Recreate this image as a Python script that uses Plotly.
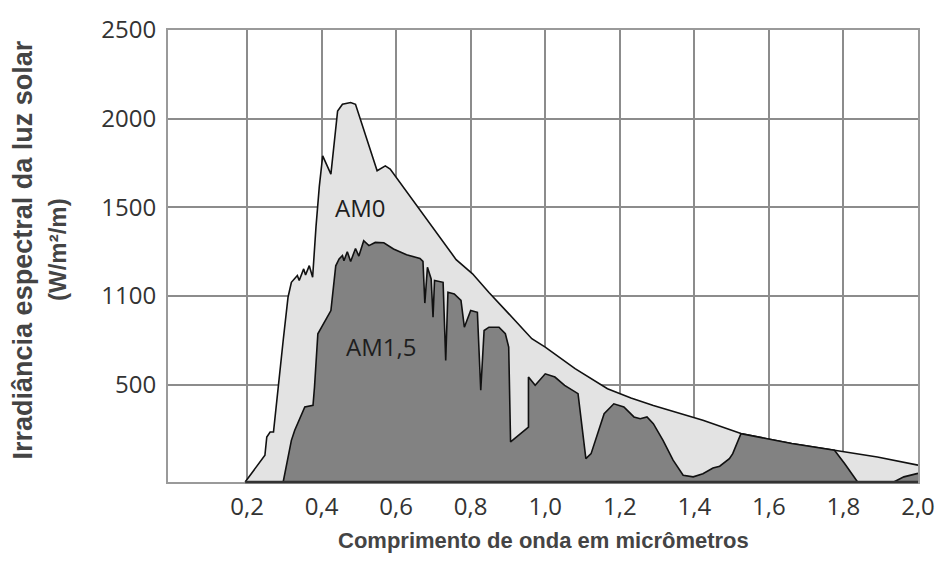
import plotly.graph_objects as go

# ---- data (wavelength in micrometres, irradiance in W/m^2/m) ----
AM0_X = [0.195, 0.248, 0.253, 0.262, 0.271, 0.284, 0.297, 0.310, 0.319, 0.335, 0.340,
         0.352, 0.357, 0.367, 0.376, 0.385, 0.394, 0.403, 0.425, 0.443, 0.456, 0.478,
         0.491, 0.549, 0.571, 0.584, 0.664, 0.734, 0.761, 0.805, 0.849, 0.900, 0.964,
         1.000, 1.080, 1.167, 1.230, 1.290, 1.360, 1.423, 1.525, 1.661, 1.776, 1.891, 2.000]
AM0_Y = [-49, 102, 205, 233, 233, 505, 749, 993, 1077, 1115, 1087,
         1153, 1118, 1171, 1106, 1390, 1620, 1790, 1687, 2043, 2081, 2091,
         2081, 1706, 1734, 1716, 1485, 1290, 1205, 1125, 1020, 905, 759,
         712, 590, 477, 425, 383, 340, 299, 224, 168, 130, 92, 46]

AM15_X = [0.297, 0.319, 0.328, 0.355, 0.377, 0.381, 0.390, 0.425, 0.438, 0.447, 0.456,
          0.460, 0.469, 0.478, 0.491, 0.500, 0.513, 0.527, 0.544, 0.567, 0.593, 0.628,
          0.664, 0.672, 0.677, 0.684, 0.694, 0.699, 0.703, 0.726, 0.733, 0.739, 0.756,
          0.774, 0.783, 0.800, 0.818, 0.827, 0.836, 0.849, 0.876, 0.893, 0.902, 0.907,
          0.955, 0.955, 0.973, 1.000, 1.026, 1.052, 1.088, 1.096, 1.109, 1.123, 1.140,
          1.158, 1.184, 1.211, 1.238, 1.255, 1.273, 1.290, 1.316, 1.343, 1.370, 1.397,
          1.423, 1.450, 1.468, 1.494, 1.503, 1.525, 1.661, 1.776, 1.803, 1.838, 1.935,
          1.962, 2.000]
AM15_Y = [-49, 186, 243, 374, 383, 486, 787, 918, 1170, 1209, 1228,
          1199, 1250, 1195, 1268, 1225, 1312, 1284, 1302, 1300, 1265, 1232,
          1212, 1195, 960, 1162, 1096, 880, 1087, 1077, 637, 1021, 1012,
          975, 824, 918, 908, 468, 805, 824, 824, 787, 712, 177,
          261, 543, 496, 561, 543, 496, 449, 299, 83, 111, 224,
          336, 392, 374, 318, 308, 318, 280, 186, 74, -11, -20,
          -2, 30, 40, 83, 111, 224, 168, 130, 55, -49, -49,
          -20, 0]

X_TICKS = [0.2, 0.4, 0.6, 0.8, 1.0, 1.2, 1.4, 1.6, 1.8, 2.0]
X_TICK_TEXT = ["0,2", "0,4", "0,6", "0,8", "1,0", "1,2", "1,4", "1,6", "1,8", "2,0"]
Y_TICKS = [500, 1000, 1500, 2000, 2500]
Y_TICK_TEXT = ["500", "1100", "1500", "2000", "2500"]

X_RANGE = [-0.012, 2.0]
Y_RANGE = [-49, 2500]
BASE = Y_RANGE[0]

SERIES_LABELS = ["AM0", "AM1,5"]
LABEL_POS = [(0.504, 1500), (0.559, 715)]

fig = go.Figure()

def add_area(xs, ys, fillcolor):
    px = list(xs) + [xs[-1], xs[0]]
    py = list(ys) + [BASE, BASE]
    fig.add_trace(go.Scatter(x=px, y=py, mode="lines", fill="toself",
                             fillcolor=fillcolor, line=dict(width=0, color=fillcolor),
                             hoverinfo="skip", showlegend=False))
    fig.add_trace(go.Scatter(x=xs, y=ys, mode="lines",
                             line=dict(color="#111111", width=1.6),
                             showlegend=False))

add_area(AM0_X, AM0_Y, "#e3e3e3")
add_area(AM15_X, AM15_Y, "#828282")

for txt, (lx, ly) in zip(SERIES_LABELS, LABEL_POS):
    fig.add_annotation(x=lx, y=ly, text=txt, showarrow=False,
                       font=dict(family="Open Sans", size=24, color="#1e1e1e"))

# axis titles
fig.add_annotation(xref="paper", yref="paper", x=0.5, y=-0.13, text="Comprimento de onda em micrômetros",
                   showarrow=False, xanchor="center", yanchor="middle",
                   font=dict(family="Liberation Sans", size=22, color="#444444", weight="bold"))
fig.add_annotation(xref="paper", yref="paper", x=(21 - 168) / 760, y=(482 - 249) / 453,
                   text="Irradiância espectral da luz solar", textangle=-90, showarrow=False,
                   xanchor="center", yanchor="middle",
                   font=dict(family="Liberation Sans", size=27, color="#444444", weight="bold"))
fig.add_annotation(xref="paper", yref="paper", x=(56 - 168) / 760, y=(482 - 249) / 453,
                   text="(W/m²/m)", textangle=-90, showarrow=False,
                   xanchor="center", yanchor="middle",
                   font=dict(family="Liberation Sans", size=24, color="#444444", weight="bold"))

# dark bottom edge under the filled spectrum
fig.add_shape(type="line", xref="x", yref="paper", x0=AM0_X[0], x1=X_RANGE[1], y0=0, y1=0,
              line=dict(color="#333333", width=2.5))

fig.update_layout(
    width=947, height=572,
    margin=dict(l=168, r=19, t=29, b=90),
    paper_bgcolor="white", plot_bgcolor="white",
    showlegend=False,
    xaxis=dict(range=X_RANGE, tickvals=X_TICKS, ticktext=X_TICK_TEXT,
               showgrid=True, gridcolor="#8c8c8c", gridwidth=1.5,
               showline=True, linecolor="#9a9a9a", linewidth=2, mirror=True,
               zeroline=False, ticks="", ticklabelstandoff=2,
               tickfont=dict(family="Open Sans", size=24, color="#333333")),
    yaxis=dict(range=Y_RANGE, tickvals=Y_TICKS, ticktext=Y_TICK_TEXT,
               showgrid=True, gridcolor="#8c8c8c", gridwidth=1.5,
               showline=True, linecolor="#9a9a9a", linewidth=2, mirror=True,
               zeroline=False, ticks="", ticklabelstandoff=5,
               tickfont=dict(family="Open Sans", size=24, color="#333333")),
)

fig.write_html("out.html")
